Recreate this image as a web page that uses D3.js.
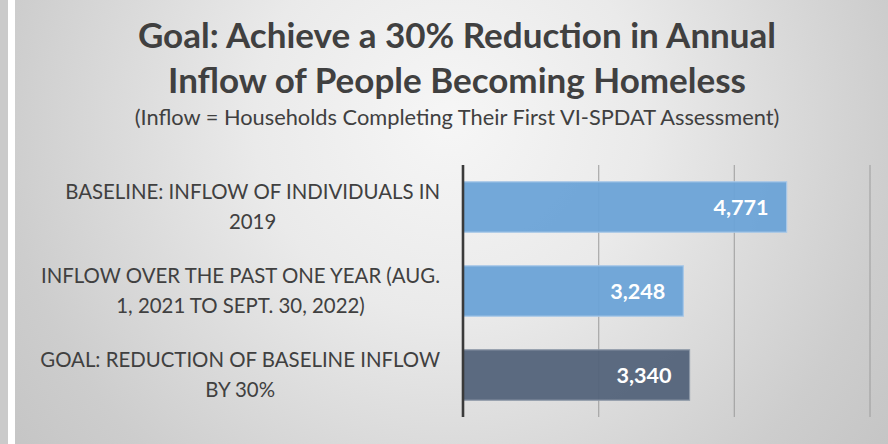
<!DOCTYPE html>
<html>
<head>
<meta charset="utf-8">
<script src="https://cdn.jsdelivr.net/npm/d3@7"></script>
<style>
	html, body { margin: 0; padding: 0; background: #fff; }
	svg { display: block; }
</style>
</head>
<body>
<svg id="container"></svg>
<script>
// chart data
const categories = ["baseline", "pastYear", "goal"];
const categoryLines = [
	["BASELINE: INFLOW OF INDIVIDUALS IN", "2019"],
	["INFLOW OVER THE PAST ONE YEAR (AUG.", "1, 2021 TO SEPT. 30, 2022)"],
	["GOAL: REDUCTION OF BASELINE INFLOW", "BY 30%"]
];
const values = [4771, 3248, 3340];
const barColors = ["#6ca3d7", "#6ca3d7", "#53637a"];
const barStrokes = ["#a8c8e8", "#a8c8e8", "#8e99a8"];
const xTicks = [0, 2000, 4000, 6000];
const titleLines = ["Goal: Achieve a 30% Reduction in Annual", "Inflow of People Becoming Homeless"];
const subtitle = "(Inflow = Households Completing Their First VI-SPDAT Assessment)";

function drawChart() {
	const W = 888, H = 444;
	const font = "Lato, 'Open Sans', sans-serif";

	var svg = d3.select("#container")
		.attr("width", W)
		.attr("height", H);

	// background gradient
	var defs = svg.append("defs");
	var grad = defs.append("radialGradient")
		.attr("id", "bg")
		.attr("gradientUnits", "userSpaceOnUse")
		.attr("cx", 450).attr("cy", 120).attr("r", 560);
	grad.append("stop").attr("offset", "0").attr("stop-color", "#f6f6f6");
	grad.append("stop").attr("offset", "0.35").attr("stop-color", "#eaeaea");
	grad.append("stop").attr("offset", "0.8").attr("stop-color", "#cdcdcd");
	grad.append("stop").attr("offset", "1").attr("stop-color", "#c4c4c4");

	// left edge strip
	svg.append("rect").attr("x", 0).attr("y", 0).attr("width", 8).attr("height", H).attr("fill", "#cacaca");
	svg.append("rect").attr("x", 8).attr("y", 0).attr("width", 7).attr("height", H).attr("fill", "#ffffff");
	svg.append("rect").attr("x", 15).attr("y", 0).attr("width", W - 15).attr("height", H).attr("fill", "url(#bg)");

	// title
	const cx = 457;
	svg.append("g").selectAll("text")
		.data(titleLines)
		.enter()
		.append("text")
		.attr("x", cx)
		.attr("y", (d, i) => 48 + i * 45)
		.attr("text-anchor", "middle")
		.attr("font-family", font)
		.attr("font-weight", "bold")
		.attr("font-size", 35)
		.attr("fill", "#404040")
		.text(d => d);

	svg.append("text")
		.attr("x", cx)
		.attr("y", 125)
		.attr("text-anchor", "middle")
		.attr("font-family", font)
		.attr("font-size", 21.8)
		.attr("fill", "#404040")
		.text(subtitle);

	// scales
	var xScale = d3.scaleLinear().domain([0, 6000]).range([463, 870]);
	var yScale = d3.scaleBand().domain(categories).range([165, 417])
		.paddingInner(0.4).paddingOuter(0.2);

	// gridlines
	svg.append("g").selectAll("line")
		.data(xTicks.slice(1))
		.enter()
		.append("line")
		.attr("x1", d => xScale(d))
		.attr("x2", d => xScale(d))
		.attr("y1", 165)
		.attr("y2", 417)
		.attr("stroke", "#9a9a9a")
		.attr("stroke-opacity", 0.75)
		.attr("stroke-width", 1.3);

	// bars
	svg.append("g").selectAll("rect")
		.data(values)
		.enter()
		.append("rect")
		.attr("x", xScale(0))
		.attr("y", (d, i) => yScale(categories[i]))
		.attr("width", d => xScale(d) - xScale(0))
		.attr("height", yScale.bandwidth())
		.attr("fill", (d, i) => barColors[i])
		.attr("fill-opacity", 0.95)
		.attr("stroke", (d, i) => barStrokes[i])
		.attr("stroke-width", 1.2);

	// value labels
	svg.append("g").selectAll("text")
		.data(values)
		.enter()
		.append("text")
		.attr("x", d => xScale(d) - 18)
		.attr("y", (d, i) => yScale(categories[i]) + yScale.bandwidth() / 2 + 7.5)
		.attr("text-anchor", "end")
		.attr("font-family", font)
		.attr("font-weight", "bold")
		.attr("font-size", 21.6)
		.attr("fill", "#ffffff")
		.text(d => d3.format(",")(d));

	// axis line
	svg.append("line")
		.attr("x1", xScale(0)).attr("x2", xScale(0))
		.attr("y1", 165).attr("y2", 417)
		.attr("stroke", "#3a3a3a")
		.attr("stroke-width", 2.6);

	// category labels, wrapped and centred in a block right-aligned to the axis
	const labelRight = 440;
	categories.forEach((c, i) => {
		var g = svg.append("g");
		var center = yScale(c) + yScale.bandwidth() / 2;
		var texts = g.selectAll("text")
			.data(categoryLines[i])
			.enter()
			.append("text")
			.attr("font-family", font)
			.attr("font-size", 20.4)
			.attr("fill", "#404040")
			.attr("text-anchor", "middle")
			.attr("y", (d, j) => center + (j - (categoryLines[i].length - 1) / 2) * 30 + 7)
			.text(d => d);
		var maxW = 0;
		texts.each(function () { maxW = Math.max(maxW, this.getComputedTextLength()); });
		texts.attr("x", labelRight - maxW / 2);
	});
}

drawChart();
</script>
</body>
</html>
